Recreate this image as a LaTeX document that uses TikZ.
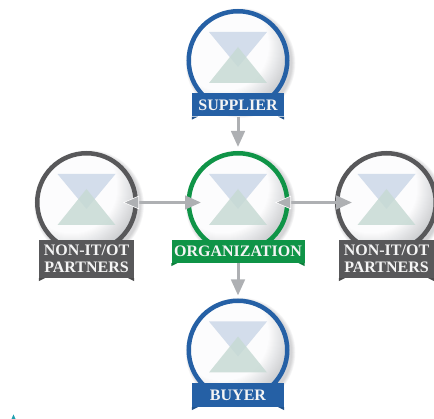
\documentclass[tikz,border=0pt]{standalone}
\usepackage{fontspec}
\setmainfont{Liberation Serif}
\usetikzlibrary{arrows.meta,backgrounds}

\definecolor{bluerole}{HTML}{2560A5}
\definecolor{greenrole}{HTML}{0F9447}
\definecolor{grayrole}{HTML}{58585A}
\definecolor{arrowgray}{HTML}{AEB0B3}
\definecolor{labelwhite}{HTML}{F4F4F4}
\definecolor{downtri}{HTML}{D3DDEB}
\definecolor{uptri}{HTML}{C7DAD4}
\definecolor{markteal}{HTML}{1FA0B0}
\definecolor{orbwhite}{HTML}{FCFCFD}
\definecolor{orbgray}{HTML}{C6C8CB}
\definecolor{halogray}{HTML}{D4D4D6}

\begin{document}
\begin{tikzpicture}[x=1pt,y=1pt,
    orb/.style={circle,draw=#1,line width=4.5pt,minimum size=98.5pt,inner sep=0pt,fill=orbgray,
                path picture={
                  \foreach \d in {72,71,...,46} {
                    \pgfmathsetmacro\m{(72-\d)/26*100}
                    \fill[orbwhite!\m!orbgray] ([shift={(-15pt,15pt)}]path picture bounding box.center) circle (\d pt);
                  }}},
    banner/.style={fill=#1,text=labelwhite,font=\bfseries\fontsize{16pt}{17.3pt}\selectfont,
                   align=center,inner sep=0pt,minimum height=23pt},
    link/.style={draw=arrowgray,line width=3pt,arrows={-Triangle[length=16pt,width=13.5pt,fill=arrowgray]}},
    halolink/.style={draw=arrowgray,line width=3pt,
                     arrows={Triangle[length=16pt,width=13.5pt,fill=arrowgray,color=white,line width=.6pt]-Triangle[length=16pt,width=13.5pt,fill=arrowgray]}}]
  \useasboundingbox (0,0) rectangle (434,-419);
  % circles first, the ribbons sit on top of them
  \node[orb=greenrole] (org) at (238,-202.5) {};
  \node[orb=bluerole] (supplier) [above of=org,node distance=142pt] {};
  \node[orb=bluerole] (buyer) [below of=org,node distance=147.5pt] {};
  \node[orb=grayrole] (partnerl) [left of=org,node distance=151.5pt] {};
  \node[orb=grayrole] (partnerr) [right of=org,node distance=148.5pt] {};
  % soft shadow behind every circle
  \begin{scope}[on background layer]
    \foreach \n in {org,supplier,buyer,partnerl,partnerr}
      \foreach \r/\m in {55/12,54.5/25,54/37,53.5/50,53/62,52.5/75,52/87,51.5/100}
        \fill[halogray!\m!white,shift={(\n.center)}] (2.5pt,-2.5pt) circle (\r pt);
  \end{scope}
  % the two triangles in each circle
  \foreach \n in {org,supplier,buyer,partnerl,partnerr} {
    \fill[downtri,shift={(\n.center)}] (-29,28.5) -- (29,28.5) -- (0,-6.5) -- cycle;
    \fill[uptri,opacity=.84,shift={(\n.center)}] (-29,-22.5) -- (29,-22.5) -- (0,13.5) -- cycle;
  }
  \node[banner=greenrole,minimum width=133pt] (orglabel) [below of=org,node distance=49pt] {ORGANIZATION};
  \node[banner=bluerole,minimum width=92pt] (supplierlabel) [below of=supplier,node distance=44.5pt] {SUPPLIER};
  \node[banner=bluerole,minimum width=92pt,minimum height=24pt] (buyerlabel) [below of=buyer,node distance=45pt] {BUYER};
  \node[banner=grayrole,minimum width=95pt,minimum height=38pt] (partnerllabel) [below of=partnerl,node distance=56.5pt] {NON-IT/OT\\PARTNERS};
  \node[banner=grayrole,minimum width=95pt,minimum height=38pt] (partnerrlabel) [below of=partnerr,node distance=56.5pt] {NON-IT/OT\\PARTNERS};
  % ribbon ends
  \foreach \n/\c in {orglabel/greenrole,supplierlabel/bluerole,buyerlabel/bluerole,partnerllabel/grayrole,partnerrlabel/grayrole} {
    \fill[\c!85!black] (\n.south west) -- ++(0,-3) -- ++(6,3) -- cycle;
    \fill[\c!85!black] (\n.south east) -- ++(0,-3) -- ++(-6,3) -- cycle;
  }
  \path
    (supplierlabel) edge [link,shorten >=4pt] (org.north)
    (orglabel) edge [link,shorten >=3pt] (buyer.north);
  \path[halolink,shorten <=36.5pt,shorten >=37pt] (partnerl.center) -- (org.center);
  \path[halolink,shorten <=37pt,shorten >=34.5pt] (org.center) -- (partnerr.center);
  \fill[markteal] (11.5,-419) -- (13.5,-414.5) -- (15.5,-419) -- cycle;
\end{tikzpicture}
\end{document}
